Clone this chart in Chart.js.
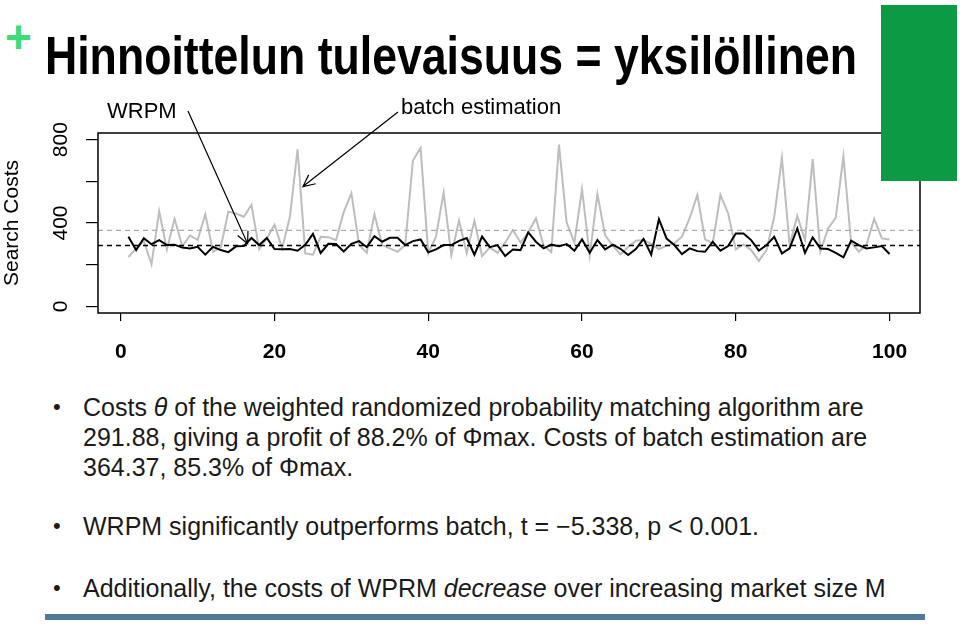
<!DOCTYPE html>
<html>
<head>
<meta charset="utf-8">
<script src="https://cdn.jsdelivr.net/npm/chart.js@4.4.1/dist/chart.umd.min.js"></script>
<style>
html,body{margin:0;padding:0;background:#fff;}
body{width:960px;height:624px;position:relative;overflow:hidden;font-family:"Liberation Sans",Arial,sans-serif;color:#1a1a1a;}
#plus{position:absolute;left:5px;top:14px;font:bold 46px "Liberation Sans",Arial,sans-serif;color:#3ddc78;line-height:46px;}
#title{position:absolute;left:45px;top:24px;font:bold 54px "Liberation Sans Narrow","Liberation Sans",Arial,sans-serif;white-space:nowrap;transform-origin:left top;line-height:62px;color:#000;}
#green{position:absolute;left:881px;top:5px;width:76px;height:176px;background:#0c9a45;z-index:3;}
#bar{position:absolute;left:45px;top:614px;width:880px;height:6px;background:#4f7a99;}
#wrap{position:absolute;left:0;top:0;width:960px;height:380px;z-index:2;}
.b{position:absolute;left:83px;font-size:25px;line-height:30px;white-space:nowrap;}
.b .dot{position:absolute;left:-30px;top:0;font-size:22px;}
</style>
</head>
<body>
<div id="plus">+</div>
<div id="title">Hinnoittelun tulevaisuus = yksilöllinen</div>
<div id="green"></div>
<div id="wrap"><canvas id="c" width="960" height="380"></canvas></div>
<div class="b" style="top:392px"><span class="dot">•</span>Costs <i>θ</i> of the weighted randomized probability matching algorithm are<br>291.88, giving a profit of 88.2% of Φmax. Costs of batch estimation are<br>364.37, 85.3% of Φmax.</div>
<div class="b" style="top:511px"><span class="dot">•</span>WRPM significantly outperforms batch, t = −5.338, p &lt; 0.001.</div>
<div class="b" style="top:573px"><span class="dot">•</span>Additionally, the costs of WPRM <i>decrease</i> over increasing market size M</div>
<div id="bar"></div>
<script>
// ---- data ----
const marketIndex = Array.from({length:100}, (_, i) => i + 1);
const wrpmCosts = [334,270,327,298,318,294,296,282,278,286,
                   248,286,270,260,288,289,328,294,328,275,
                   274,275,267,295,348,256,300,299,263,300,
                   313,284,337,310,329,329,294,313,321,259,
                   273,294,294,314,328,248,335,284,294,241,
                   273,270,355,310,278,296,288,299,267,321,
                   257,318,273,296,276,246,275,324,248,418,
                   325,294,251,278,265,262,310,267,289,350,
                   350,318,267,294,334,254,278,374,257,331,
                   278,275,257,235,315,294,278,283,289,251];
const batchCosts = [237,278,314,202,456,273,420,288,340,318,
                    443,262,282,455,445,430,487,274,326,392,
                    278,430,754,254,248,334,332,318,452,543,
                    294,257,442,294,278,262,294,700,760,254,
                    334,546,246,413,255,411,241,283,257,306,
                    366,306,354,423,292,260,776,402,306,562,
                    244,539,342,290,250,285,315,318,300,275,
                    290,302,334,423,535,321,302,535,447,273,
                    297,270,218,270,430,712,294,434,318,707,
                    262,374,425,721,306,262,296,420,326,321];
const wrpmMean = 291.88;
const batchMean = 364.37;
const xTicks = [0,20,40,60,80,100];
const yTicks = [0,200,400,600,800];
const yLabels = [0,400,800];
const xRange = [-2.96, 103.96];
const yRange = [-32, 832];
const seriesNames = ['WRPM','batch estimation'];
const annotationTips = [[16.5, 300],[23.7, 575]];

const toXY = arr => arr.map((v, i) => ({x: marketIndex[i], y: v}));

const boxPlugin = {
  id: 'boxAndNotes',
  afterDraw(chart) {
    const {ctx, chartArea: a, scales} = chart;
    ctx.save();
    ctx.strokeStyle = '#000';
    ctx.lineWidth = 1.5;
    ctx.strokeRect(a.left, a.top, a.right - a.left, a.bottom - a.top);
    const notes = [
      {text: seriesNames[0], tx: 107, ty: 112, sx: 188, sy: 111},
      {text: seriesNames[1], tx: 401, ty: 108, sx: 398, sy: 112}
    ];
    ctx.font = '22px "Liberation Sans", Arial, sans-serif';
    ctx.fillStyle = '#000';
    ctx.textBaseline = 'middle';
    ctx.textAlign = 'left';
    ctx.lineWidth = 1.2;
    notes.forEach((n, i) => {
      ctx.fillText(n.text, n.tx, n.ty);
      const ex = scales.x.getPixelForValue(annotationTips[i][0]);
      const ey = scales.y.getPixelForValue(annotationTips[i][1]);
      ctx.beginPath();
      ctx.moveTo(n.sx, n.sy);
      ctx.lineTo(ex, ey);
      const ang = Math.atan2(ey - n.sy, ex - n.sx);
      const L = 13, h = 0.45;
      ctx.moveTo(ex - L * Math.cos(ang - h), ey - L * Math.sin(ang - h));
      ctx.lineTo(ex, ey);
      ctx.lineTo(ex - L * Math.cos(ang + h), ey - L * Math.sin(ang + h));
      ctx.stroke();
    });
    ctx.restore();
  }
};

new Chart(document.getElementById('c'), {
  type: 'line',
  data: {
    datasets: [
      {label:'wrpm mean', data:[{x:xRange[0],y:wrpmMean},{x:xRange[1],y:wrpmMean}], borderColor:'#000', borderWidth:1.6, borderDash:[5,4], pointRadius:0},
      {label:'batch mean', data:[{x:xRange[0],y:batchMean},{x:xRange[1],y:batchMean}], borderColor:'#aaaaaa', borderWidth:1.2, borderDash:[5,4], pointRadius:0},
      {label:seriesNames[0], data: toXY(wrpmCosts), borderColor:'#000', borderWidth:2, pointRadius:0, tension:0},
      {label:seriesNames[1], data: toXY(batchCosts), borderColor:'#bdbdbd', borderWidth:2, pointRadius:0, tension:0}
    ]
  },
  options: {
    responsive:false,
    animation:false,
    events:[],
    layout:{padding:{top:133, right:40, left:0, bottom:0}},
    plugins:{legend:{display:false}, tooltip:{enabled:false}},
    scales:{
      x:{
        type:'linear', min:xRange[0], max:xRange[1],
        afterBuildTicks: s => { s.ticks = xTicks.map(v => ({value:v})); },
        afterFit: s => { s.height = 67; },
        ticks:{font:{size:21, weight:'bold', family:'"Liberation Sans", Arial, sans-serif'}, color:'#000', padding:19, maxRotation:0, autoSkip:false},
        grid:{drawOnChartArea:false, drawTicks:true, tickLength:8, color:'#000', lineWidth:1.2},
        border:{display:false}
      },
      y:{
        type:'linear', min:yRange[0], max:yRange[1],
        afterBuildTicks: s => { s.ticks = yTicks.map(v => ({value:v})); },
        afterFit: s => { s.width = 98; },
        ticks:{callback: v => yLabels.includes(v) ? String(v) : '', font:{size:21, family:'"Liberation Sans", Arial, sans-serif'}, color:'#000', minRotation:90, maxRotation:90, crossAlign:'center', padding:7, autoSkip:false},
        grid:{drawOnChartArea:false, drawTicks:true, tickLength:12, color:'#000', lineWidth:1.2},
        border:{display:false},
        title:{display:true, text:'Search Costs', font:{size:21, family:'"Liberation Sans", Arial, sans-serif'}, color:'#000', padding:{top:0, bottom:0}}
      }
    }
  },
  plugins:[boxPlugin]
});

const t = document.getElementById('title');
const w = t.getBoundingClientRect().width;
t.style.transform = 'scaleX(' + (812 / w) + ')';
</script>
</body>
</html>
